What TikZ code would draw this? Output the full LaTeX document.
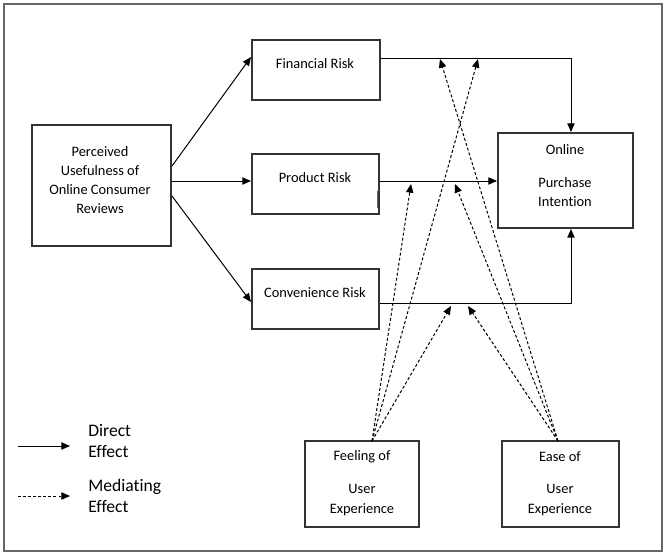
\documentclass[tikz,border=0pt]{standalone}
\usepackage{fontspec}
\setmainfont[Ligatures=NoCommon]{Carlito}
\usetikzlibrary{arrows.meta,calc,fit}
\begin{document}
\begin{tikzpicture}[x=0.75pt,y=-0.75pt,
  box/.style={draw=black!80,line width=1.5pt,inner sep=0pt},
  txt/.style={font=\fontsize{10.8}{14.4}\selectfont,align=center,inner sep=0pt},
  legtxt/.style={font=\fontsize{13.2}{16}\selectfont,align=left,inner sep=0pt,anchor=west},
  direct/.style={line width=0.75pt,-{Triangle[length=6.5pt,width=5.5pt]}},
  mediate/.style={direct,dash pattern=on 2.2pt off 1.6pt}]
\useasboundingbox (0,0) rectangle (669,557);
\draw[black!60,line width=1.1pt] (4,4) rectangle (662,551);
% boxes
\node[box,fit={(32,125)(171,246)}] (pu) {};
\node[box,fit={(252,40)(380,100)}] (fr) {};
\node[box,fit={(252,154)(379,214)}] (pr) {};
\node[box,fit={(252,269)(379,329)}] (cr) {};
\node[box,fit={(498,133)(633,228)}] (pi) {};
\node[box,fit={(305,441)(419,527)}] (fu) {};
\node[box,fit={(502,441)(619,527)}] (eu) {};
\draw[black!60,line width=0.75pt] (377,191) -- (377,208);
% texts
\node[txt] (put) at (100,180) {Perceived\\Usefulness of\\Online Consumer\\Reviews};
\node[txt] (frt) at (315,64) {Financial Risk};
\node[txt] (prt) at (315,178) {Product Risk};
\node[txt] (crt) at (315,293) {Convenience Risk};
\node[txt] (pit1) at (565,150) {Online};
\node[txt] (pit2) at (565,192) {Purchase\\Intention};
\node[txt] (fut1) at (362,457) {Feeling of};
\node[txt] (fut2) at (362,500) {User\\Experience};
\node[txt] (eut1) at (560,457) {Ease of};
\node[txt] (eut2) at (560,500) {User\\Experience};
% direct effects
\draw[direct] (pu.east|-0,166) -- (fr.west|-0,57);
\draw[direct] (pu.east|-0,181) -- (pr.west|-0,181);
\draw[direct] (pu.east|-0,196) -- (cr.west|-0,302);
\draw[direct] (fr.east|-0,58) -| (pi.north-|571,0);
\draw[direct] (pr.east|-0,181) -- (pi.west|-0,181);
\draw[direct] (cr.east|-0,303) -| (pi.south-|571,0);
% mediating effects
\coordinate (fa) at (372,441);
\coordinate (ea) at (558,441);
\coordinate (m1) at (478,59);
\coordinate (m2) at (411,184);
\coordinate (m3) at (451,306);
\coordinate (m4) at (440,59);
\coordinate (m5) at (455,184);
\coordinate (m6) at (468,306);
\draw[mediate] (fa) -- (m1);
\draw[mediate] (fa) -- (m2);
\draw[mediate] (fa) -- (m3);
\draw[mediate] (ea) -- (m4);
\draw[mediate] (ea) -- (m5);
\draw[mediate] (ea) -- (m6);
% legend
\coordinate (l1a) at (18,446);
\coordinate (l1b) at (70,446);
\coordinate (l2a) at (18,496);
\coordinate (l2b) at (70,496);
\draw[direct] (l1a) -- (l1b);
\draw[mediate] (l2a) -- (l2b);
\node[legtxt] (lt1) at (88,441) {Direct\\Effect};
\node[legtxt] (lt2) at (88,496) {Mediating\\Effect};
\end{tikzpicture}
\end{document}
